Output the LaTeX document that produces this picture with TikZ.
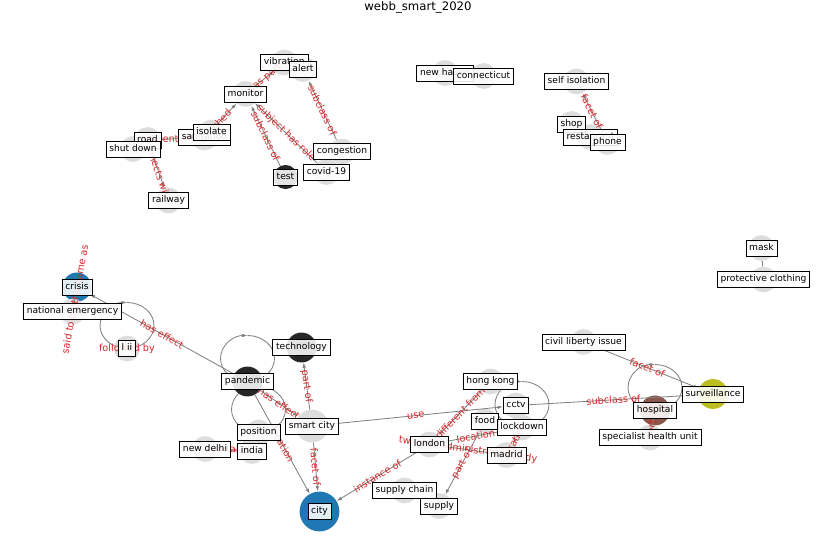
\documentclass[tikz,border=0pt]{standalone}
\usepackage{fontspec}
\setmainfont{DejaVu Sans}
\usetikzlibrary{arrows.meta,backgrounds}
\definecolor{relred}{HTML}{D62728}
\definecolor{nblue}{HTML}{1F77B4}
\definecolor{nblack}{HTML}{262626}
\definecolor{nolive}{HTML}{BCBD22}
\definecolor{nbrown}{HTML}{8C564B}
\definecolor{ngray}{HTML}{DDDDDD}
\definecolor{egray}{HTML}{808080}

\begin{document}
\begin{tikzpicture}[x=0.03cm,y=-0.03cm,
  g/.style={circle,fill=ngray,minimum size=22pt,inner sep=0pt},
  lb/.style={draw,fill=white,fill opacity=.88,text opacity=1,line width=.6pt,
             font=\fontsize{7.8}{9}\selectfont,inner xsep=2.8pt,inner ysep=3pt,
             text height=5.9pt,text depth=1.7pt},
  rl/.style={text=relred,font=\fontsize{8.3}{10}\selectfont,inner sep=0pt},
  e/.style={draw=egray,line width=.7pt},
  a/.style={e,-{Latex[length=4.5pt,width=3pt]}}
]
\useasboundingbox (0,0) rectangle (837,559);
\begin{pgfonlayer}{background}
\fill[white] (0,0) rectangle (837,559);
\end{pgfonlayer}
\node[font=\fontsize{10}{12}\selectfont] (title) at (418,7) {webb\_smart\_2020};

% nodes
\node[g] (vibration) at (284.3,62.5) {};
\node[g] (alert) at (303,69) {};
\node[g] (monitor) at (245.5,94) {};
\node[g] (sanitizer) at (204.5,137.5) {};
\node[g] (isolate) at (211.5,132.5) {};
\node[g] (road) at (147.5,140) {};
\node[g] (shutdown) at (133,149) {};
\node[g] (railway) at (168.5,200.5) {};
\node[g,fill=nblack,minimum size=20.5pt] (test) at (285.5,177) {};
\node[g] (covid) at (326.5,172) {};
\node[g] (congestion) at (342,151.5) {};
\node[g] (newhaven) at (445,73) {};
\node[g] (connecticut) at (483.5,76) {};
\node[g] (selfiso) at (576.5,81.5) {};
\node[g] (shop) at (571.5,124) {};
\node[g] (restaurant) at (590.5,137) {};
\node[g] (phone) at (607.5,142) {};
\node[g,fill=nblue,minimum size=24.7pt] (crisis) at (77,287) {};
\node[g] (natemerg) at (72.5,311.5) {};
\node[g] (lii) at (127,348.5) {};
\node[g,fill=nblack,minimum size=25.5pt] (technology) at (301.5,347.5) {};
\node[g,fill=nblack,minimum size=25.5pt] (pandemic) at (247.5,381.5) {};
\node[g,minimum size=28pt] (smartcity) at (312,426) {};
\node[g] (position) at (258.5,432.5) {};
\node[g] (india) at (252,451) {};
\node[g] (newdelhi) at (205,449) {};
\node[g,fill=nblue,minimum size=34pt] (city) at (319.5,511.5) {};
\node[g] (hongkong) at (490.5,381.5) {};
\node[g] (cctv) at (516,405.5) {};
\node[g] (food) at (485,421.5) {};
\node[g] (lockdown) at (522,427.5) {};
\node[g] (london) at (429.5,444.5) {};
\node[g] (madrid) at (506.5,455) {};
\node[g] (supplychain) at (404.5,490.5) {};
\node[g] (supply) at (439,506) {};
\node[g] (civil) at (583.5,342) {};
\node[g,fill=nolive,minimum size=25.5pt] (surveillance) at (713,394) {};
\node[g,fill=nbrown,minimum size=25.5pt] (hospital) at (655,410.5) {};
\node[g] (specialist) at (650,437.5) {};
\node[g] (mask) at (761.5,248) {};
\node[g] (protective) at (763.5,279.5) {};

% self loops
\begin{pgfonlayer}{background}
\foreach \n in {lii,pandemic,position,lockdown,hospital}{
  \draw[a] (\n.center) arc[start angle=90,delta angle=180,x radius=27,y radius=23];
  \draw[e] (\n.center) arc[start angle=90,delta angle=-180,x radius=27,y radius=23];
}
\end{pgfonlayer}

% edges
\draw[a] (monitor) -- (vibration) node[rl,midway,sloped]{has part};
\draw[a] (congestion) -- (alert) node[rl,midway,sloped]{subclass of};
\draw[a] (test) -- (monitor) node[rl,midway,sloped]{subclass of};
\draw[a] (covid) -- (monitor) node[rl,midway,sloped]{subject has role};
\draw[a] (sanitizer) -- (monitor) node[rl,pos=.05,sloped]{attached};
\draw[a] (road) -- (sanitizer) node[rl,pos=.33,sloped]{different from};
\draw[a] (road) -- (railway) node[rl,midway,sloped]{connects with};
\draw[a] (phone) -- (selfiso) node[rl,midway,sloped]{facet of};
\draw[e] (natemerg.center) -- (crisis.center) node[rl,midway,sloped]{said to be the same as};
\draw[a] (pandemic) -- (crisis) node[rl,midway,sloped]{has effect};
\node[rl] (lii-r) at (lii) {followed by};
\draw[a] (smartcity) -- (technology) node[rl,midway,sloped]{part of};
\draw[a] (smartcity) -- (city) node[rl,midway,sloped]{facet of};
\draw[a] (pandemic) -- (smartcity) node[rl,midway,sloped]{has effect};
\draw[a] (pandemic) -- (city) node[rl,midway,sloped]{location};
\draw[a] (newdelhi) -- (india) node[rl,midway,sloped]{capital of};
\draw[a] (london) -- (city) node[rl,midway,sloped]{instance of};
\draw[a] (smartcity) -- (cctv) node[rl,midway,sloped]{use};
\draw[a] (cctv) -- (surveillance) node[rl,midway,sloped]{subclass of};
\draw[a] (hongkong) -- (london) node[rl,midway,sloped]{different from};
\draw[a] (london) -- (madrid) node[rl,midway,sloped]{twinned administrative body};
\draw[a] (lockdown) -- (london) node[rl,midway,sloped]{location};
\draw[a] (lockdown) -- (madrid) node[rl,midway,sloped]{location};
\draw[a] (food) -- (supply) node[rl,midway,sloped]{part of};
\draw[a] (civil) -- (surveillance) node[rl,midway,sloped]{facet of};
\draw[e] (specialist.center) -- (hospital.center) node[rl,midway,sloped]{part of};
\draw[e] (protective) -- (mask);

% labels
\node[lb] (vibration-t) at (vibration) {vibration};
\node[lb] (alert-t) at (alert) {alert};
\node[lb] (monitor-t) at (monitor) {monitor};
\node[lb] (sanitizer-t) at (sanitizer) {sanitation};
\node[lb] (isolate-t) at (isolate) {isolate};
\node[lb] (road-t) at (road) {road};
\node[lb] (shutdown-t) at (shutdown) {shut down};
\node[lb] (railway-t) at (railway) {railway};
\node[lb] (test-t) at (test) {test};
\node[lb] (covid-t) at (covid) {covid-19};
\node[lb] (congestion-t) at (congestion) {congestion};
\node[lb] (newhaven-t) at (newhaven) {new haven};
\node[lb] (connecticut-t) at (connecticut) {connecticut};
\node[lb] (selfiso-t) at (selfiso) {self isolation};
\node[lb] (shop-t) at (shop) {shop};
\node[lb] (restaurant-t) at (restaurant) {restaurant};
\node[lb] (phone-t) at (phone) {phone};
\node[lb] (crisis-t) at (crisis) {crisis};
\node[lb] (natemerg-t) at (natemerg) {national emergency};
\node[lb] (lii-t) at (lii) {l ii};
\node[lb] (technology-t) at (technology) {technology};
\node[lb] (pandemic-t) at (pandemic) {pandemic};
\node[lb] (smartcity-t) at (smartcity) {smart city};
\node[lb] (position-t) at (position) {position};
\node[lb] (india-t) at (india) {india};
\node[lb] (newdelhi-t) at (newdelhi) {new delhi};
\node[lb] (city-t) at (city) {city};
\node[lb] (hongkong-t) at (hongkong) {hong kong};
\node[lb] (cctv-t) at (cctv) {cctv};
\node[lb] (food-t) at (food) {food};
\node[lb] (lockdown-t) at (lockdown) {lockdown};
\node[lb] (london-t) at (london) {london};
\node[lb] (madrid-t) at (madrid) {madrid};
\node[lb] (supplychain-t) at (supplychain) {supply chain};
\node[lb] (supply-t) at (supply) {supply};
\node[lb] (civil-t) at (civil) {civil liberty issue};
\node[lb] (surveillance-t) at (surveillance) {surveillance};
\node[lb] (hospital-t) at (hospital) {hospital};
\node[lb] (specialist-t) at (specialist) {specialist health unit};
\node[lb] (mask-t) at (mask) {mask};
\node[lb] (protective-t) at (protective) {protective clothing};
\end{tikzpicture}
\end{document}
